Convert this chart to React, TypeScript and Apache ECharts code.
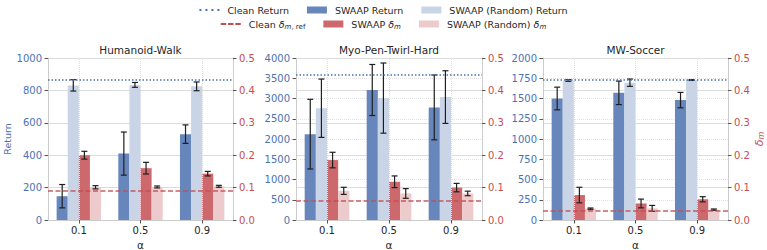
import React, { useEffect, useRef } from "react";
import * as echarts from "echarts";

// ---------- data ----------
const categories = ["0.1", "0.5", "0.9"];
const panelTitles = ["Humanoid-Walk", "Myo-Pen-Twirl-Hard", "MW-Soccer"];
const returnAxisMax = [1000, 4000, 2000];
const returnAxisInterval = [200, 500, 250];
const deltaAxisMax = 0.5;
const deltaAxisInterval = 0.1;

// Humanoid-Walk
const hwSwaapReturn = [147, 410, 530];
const hwSwaapReturnErr = [72, 133, 57];
const hwRandomReturn = [831, 834, 825];
const hwRandomReturnErr = [35, 15, 27];
const hwSwaapDelta = [0.2, 0.16, 0.143];
const hwSwaapDeltaErr = [0.012, 0.018, 0.007];
const hwRandomDelta = [0.101, 0.102, 0.104];
const hwRandomDeltaErr = [0.005, 0.003, 0.003];

// Myo-Pen-Twirl-Hard
const myoSwaapReturn = [2120, 3210, 2780];
const myoSwaapReturnErr = [860, 630, 800];
const myoRandomReturn = [2760, 3010, 3035];
const myoRandomReturnErr = [720, 866, 650];
const myoSwaapDelta = [0.185, 0.118, 0.1];
const myoSwaapDeltaErr = [0.024, 0.018, 0.013];
const myoRandomDelta = [0.09, 0.082, 0.082];
const myoRandomDeltaErr = [0.011, 0.015, 0.007];

// MW-Soccer
const mwSwaapReturn = [1500, 1570, 1480];
const mwSwaapReturnErr = [140, 145, 95];
const mwRandomReturn = [1722, 1695, 1728];
const mwRandomReturnErr = [10, 45, 5];
const mwSwaapDelta = [0.077, 0.051, 0.064];
const mwSwaapDeltaErr = [0.024, 0.0135, 0.008];
const mwRandomDelta = [0.035, 0.036, 0.032];
const mwRandomDeltaErr = [0.002, 0.009, 0.002];

const cleanReturn = [868, 3580, 1730];
const cleanDelta = [0.093, 0.059, 0.034];

// ---------- styles ----------
const FONT = "DejaVu Sans";
const TEXT = "#262626";
const BLUE = "#4C72B0";
const RED = "#C44E52";
const C_SWAAP_RET = "#6787bc";
const C_RAND_RET = "#c9d5e7";
const C_SWAAP_DEL = "#cd686c";
const C_RAND_DEL = "#edcacb";
const GAP = 0.28;

const panels = [
  {
    sr: hwSwaapReturn, sre: hwSwaapReturnErr, rr: hwRandomReturn, rre: hwRandomReturnErr,
    sd: hwSwaapDelta, sde: hwSwaapDeltaErr, rd: hwRandomDelta, rde: hwRandomDeltaErr,
  },
  {
    sr: myoSwaapReturn, sre: myoSwaapReturnErr, rr: myoRandomReturn, rre: myoRandomReturnErr,
    sd: myoSwaapDelta, sde: myoSwaapDeltaErr, rd: myoRandomDelta, rde: myoRandomDeltaErr,
  },
  {
    sr: mwSwaapReturn, sre: mwSwaapReturnErr, rr: mwRandomReturn, rre: mwRandomReturnErr,
    sd: mwSwaapDelta, sde: mwSwaapDeltaErr, rd: mwRandomDelta, rde: mwRandomDeltaErr,
  },
];

const gridRects = [
  { left: 48, width: 185 },
  { left: 296, width: 186 },
  { left: 543, width: 185 },
];
const GRID_TOP = 58;
const GRID_H = 162;

const dottedIcon = "path://M0,0h2v2h-2z M6,0h2v2h-2z M12,0h2v2h-2z M18,0h2v2h-2z";
const dashedIcon = "path://M0,0h6v2h-6z M8,0h6v2h-6z M16,0h6v2h-6z";

const richBase = {
  d: { fontFamily: FONT, fontSize: 9.5, fontStyle: "italic", color: TEXT, lineHeight: 12 },
  s: { fontFamily: FONT, fontSize: 7, fontStyle: "italic", color: TEXT, verticalAlign: "bottom", lineHeight: 6 },
  r: { fontFamily: FONT, fontSize: 7, color: TEXT, verticalAlign: "bottom", lineHeight: 6 },
};

const legendLabels: Record<string, string> = {
  "Clean Return": "Clean Return",
  "SWAAP Return": "SWAAP Return",
  "SWAAP (Random) Return": "SWAAP (Random) Return",
  "Clean δ": "Clean {d|δ}{s|m}{r|, ref}",
  "SWAAP δm": "SWAAP {d|δ}{s|m}",
  "SWAAP (Random) δm": "SWAAP (Random) {d|δ}{s|m}",
};

function errorRenderer(params: any, api: any) {
  const cat = api.value(0);
  const slot = api.value(1);
  const mean = api.value(2);
  const err = api.value(3);
  const band = api.size([1, 0])[0];
  const bw = (band * (1 - GAP)) / 4;
  const cx = api.coord([cat, mean])[0] + (slot - 1.5) * bw;
  const yTop = api.coord([cat, mean + err])[1];
  const yBot = api.coord([cat, mean - err])[1];
  const c = 3;
  const style = { stroke: "#1f1f1f", lineWidth: 1.2 };
  return {
    type: "group",
    children: [
      { type: "line", shape: { x1: cx, y1: yTop, x2: cx, y2: yBot }, style },
      { type: "line", shape: { x1: cx - c, y1: yTop, x2: cx + c, y2: yTop }, style },
      { type: "line", shape: { x1: cx - c, y1: yBot, x2: cx + c, y2: yBot }, style },
    ],
  };
}

function buildOption() {
  const grid: any[] = [];
  const xAxis: any[] = [];
  const yAxis: any[] = [];
  const series: any[] = [];
  const title: any[] = [];

  panels.forEach((p, i) => {
    const g = gridRects[i];
    grid.push({
      left: g.left,
      width: g.width,
      top: GRID_TOP,
      height: GRID_H,
      containLabel: false,
      outerBoundsMode: "none",
    });
    title.push({
      text: panelTitles[i],
      left: g.left + g.width / 2,
      top: 44,
      textAlign: "center",
      padding: 0,
      textStyle: { fontFamily: FONT, fontSize: 10.5, fontWeight: "normal", color: TEXT },
    });
    xAxis.push({
      type: "category",
      gridIndex: i,
      data: categories,
      boundaryGap: true,
      axisLine: { show: true, lineStyle: { color: "#cccccc", width: 1 } },
      axisTick: { show: true, alignWithLabel: true, length: 3.5, lineStyle: { color: "#555555" } },
      axisLabel: { color: TEXT, fontSize: 10, margin: 5, fontFamily: FONT },
      splitLine: { show: false },
      name: "α",
      nameLocation: "middle",
      nameGap: 15,
      nameTextStyle: { color: TEXT, fontSize: 10.5, fontFamily: FONT },
    });
    yAxis.push({
      type: "value",
      gridIndex: i,
      position: "left",
      min: 0,
      max: returnAxisMax[i],
      interval: returnAxisInterval[i],
      axisLine: { show: true, lineStyle: { color: "#cccccc", width: 1 } },
      axisTick: { show: true, length: 3.5, lineStyle: { color: "#555555" } },
      axisLabel: {
        color: BLUE,
        fontSize: 10,
        margin: 6,
        fontFamily: FONT,
        formatter: (v: number) => String(v),
      },
      splitLine: { show: true, lineStyle: { color: "#e3e3e3", type: "dotted", width: 1 } },
      ...(i === 0
        ? {
            name: "Return",
            nameLocation: "middle",
            nameGap: 32,
            nameTextStyle: { color: BLUE, fontSize: 9.5, fontFamily: FONT },
          }
        : {}),
    });
    yAxis.push({
      type: "value",
      gridIndex: i,
      position: "right",
      min: 0,
      max: deltaAxisMax,
      interval: deltaAxisInterval,
      axisLine: { show: true, lineStyle: { color: "#cccccc", width: 1 } },
      axisTick: { show: true, length: 3.5, lineStyle: { color: "#555555" } },
      axisLabel: {
        color: RED,
        fontSize: 10,
        margin: 6,
        fontFamily: FONT,
        formatter: (v: number) => v.toFixed(1),
      },
      splitLine: { show: true, lineStyle: { color: "#dcdcdc", width: 1 } },
      ...(i === 2
        ? {
            name: "{d|δ}{s|m}",
            nameLocation: "middle",
            nameGap: 24,
            nameTextStyle: {
              color: RED,
              fontSize: 11,
              fontFamily: FONT,
              rich: {
                d: { fontFamily: FONT, fontSize: 11, fontStyle: "italic", color: RED, lineHeight: 13 },
                s: { fontFamily: FONT, fontSize: 8, fontStyle: "italic", color: RED, verticalAlign: "bottom", lineHeight: 6 },
              },
            },
          }
        : {}),
    });
    const yL = 2 * i;
    const yR = 2 * i + 1;

    series.push({
      type: "line",
      name: "_vgrid" + i,
      xAxisIndex: i,
      yAxisIndex: yL,
      data: [],
      z: 0,
      silent: true,
      markLine: {
        silent: true,
        symbol: ["none", "none"],
        label: { show: false },
        lineStyle: { color: "#dedede", type: "dotted", width: 1 },
        data: categories.map((c) => ({ xAxis: c })),
      },
    });

    const barCommon = { type: "bar", xAxisIndex: i, barGap: "0%", barCategoryGap: GAP * 100 + "%", z: 2 };
    series.push({ ...barCommon, name: "SWAAP Return", yAxisIndex: yL, data: p.sr, itemStyle: { color: C_SWAAP_RET } });
    series.push({ ...barCommon, name: "SWAAP (Random) Return", yAxisIndex: yL, data: p.rr, itemStyle: { color: C_RAND_RET } });
    series.push({ ...barCommon, name: "SWAAP δm", yAxisIndex: yR, data: p.sd, itemStyle: { color: C_SWAAP_DEL } });
    series.push({ ...barCommon, name: "SWAAP (Random) δm", yAxisIndex: yR, data: p.rd, itemStyle: { color: C_RAND_DEL } });

    series.push({
      type: "custom",
      name: "_errL" + i,
      xAxisIndex: i,
      yAxisIndex: yL,
      z: 4,
      silent: true,
      renderItem: errorRenderer,
      encode: { x: 0, y: 2 },
      data: [
        ...categories.map((_, k) => [k, 0, p.sr[k], p.sre[k]]),
        ...categories.map((_, k) => [k, 1, p.rr[k], p.rre[k]]),
      ],
    });
    series.push({
      type: "custom",
      name: "_errR" + i,
      xAxisIndex: i,
      yAxisIndex: yR,
      z: 4,
      silent: true,
      renderItem: errorRenderer,
      encode: { x: 0, y: 2 },
      data: [
        ...categories.map((_, k) => [k, 2, p.sd[k], p.sde[k]]),
        ...categories.map((_, k) => [k, 3, p.rd[k], p.rde[k]]),
      ],
    });

    series.push({
      type: "line",
      name: "Clean Return",
      xAxisIndex: i,
      yAxisIndex: yL,
      data: [],
      z: 5,
      itemStyle: { color: BLUE },
      lineStyle: { color: BLUE },
      markLine: {
        silent: true,
        symbol: ["none", "none"],
        label: { show: false },
        lineStyle: { color: BLUE, type: [1.5, 2], width: 1.5 },
        data: [{ yAxis: cleanReturn[i] }],
      },
    });
    series.push({
      type: "line",
      name: "Clean δ",
      xAxisIndex: i,
      yAxisIndex: yR,
      data: [],
      z: 5,
      itemStyle: { color: RED },
      lineStyle: { color: RED },
      markLine: {
        silent: true,
        symbol: ["none", "none"],
        label: { show: false },
        lineStyle: { color: RED, type: [5, 2.5], width: 1.5, opacity: 0.9 },
        data: [{ yAxis: cleanDelta[i] }],
      },
    });
  });

  const legendCommon = {
    left: "center",
    padding: 0,
    itemWidth: 20,
    itemHeight: 7,
    itemGap: 18,
    selectedMode: false,
    itemStyle: { borderWidth: 0 },
    formatter: (name: string) => legendLabels[name] ?? name,
    textStyle: {
      fontFamily: FONT,
      fontSize: 9.5,
      color: TEXT,
      lineHeight: 12,
      padding: [0, 0, 0, 3],
      rich: richBase,
    },
  };

  return {
    animation: false,
    backgroundColor: "#ffffff",
    textStyle: { fontFamily: FONT },
    title,
    legend: [
      {
        ...legendCommon,
        top: 4,
        data: [
          { name: "Clean Return", icon: dottedIcon },
          { name: "SWAAP Return", icon: "rect" },
          { name: "SWAAP (Random) Return", icon: "rect" },
        ],
      },
      {
        ...legendCommon,
        top: 18,
        data: [
          { name: "Clean δ", icon: dashedIcon },
          { name: "SWAAP δm", icon: "rect" },
          { name: "SWAAP (Random) δm", icon: "rect" },
        ],
      },
    ],
    grid,
    xAxis,
    yAxis,
    series,
  };
}

export default function App() {
  const ref = useRef<HTMLDivElement | null>(null);
  useEffect(() => {
    if (!ref.current) return;
    const chart = echarts.init(ref.current, undefined, { renderer: "svg" });
    chart.setOption(buildOption() as any);
    return () => chart.dispose();
  }, []);
  return (
    <div
      ref={ref}
      style={{ position: "fixed", left: 0, top: 0, width: 767, height: 250, background: "#fff" }}
    />
  );
}
